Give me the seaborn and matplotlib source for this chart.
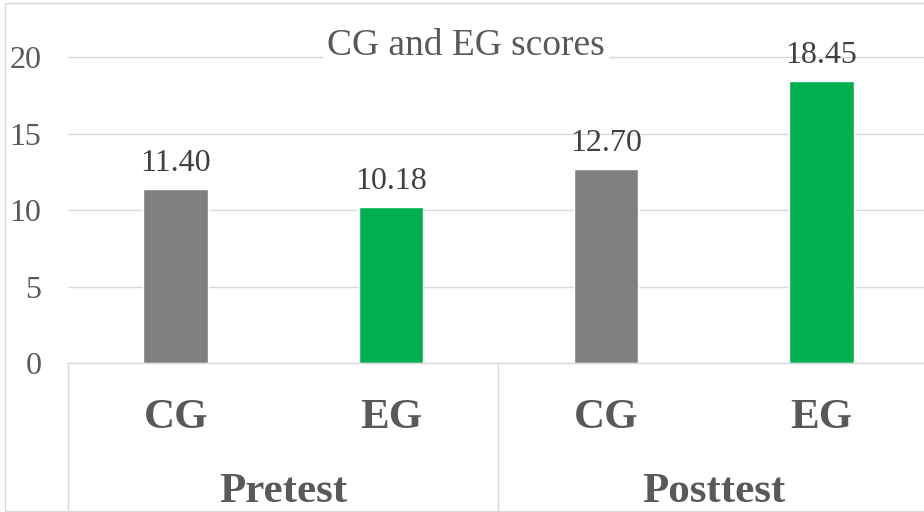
import matplotlib
matplotlib.use("Agg")
import matplotlib.pyplot as plt
import matplotlib.transforms as mtransforms
from matplotlib.patches import Rectangle
import seaborn as sns
import pandas as pd

# ---- data ----
phases = ["Pretest", "Pretest", "Posttest", "Posttest"]
groups = ["CG", "EG", "CG", "EG"]
scores = [11.40, 10.18, 12.70, 18.45]
title_text = "CG and EG scores"
y_ticks = [0, 5, 10, 15, 20]

df = pd.DataFrame({"phase": phases, "group": groups, "score": scores})
df["slot"] = [f"{p} {g}" for p, g in zip(phases, groups)]

sns.set_theme(style="white")
plt.rcParams["font.family"] = ["Liberation Serif", "DejaVu Serif"]

W, H = 924, 512
fig = plt.figure(figsize=(W / 100, H / 100), dpi=100)
ax_left, ax_right, ax_top, ax_bottom = 68, 929, 3, 363
ax = fig.add_axes([ax_left / W, 1 - ax_bottom / H,
                   (ax_right - ax_left) / W, (ax_bottom - ax_top) / H])

palette = {"CG": "#7f7f7f", "EG": "#00b050"}
sns.barplot(data=df, x="slot", y="score", hue="group", palette=palette,
            dodge=False, width=0.30, ax=ax, legend=False, saturation=1,
            order=list(df["slot"]))

ax.set_xlim(-0.5, 3.5)
ax.set_ylim(0, 23.53)
ax.set_yticks(y_ticks)
ax.set_yticklabels([str(t) for t in y_ticks], fontsize=23, color="#595959")
ax.tick_params(axis="y", length=0, pad=19)
ax.tick_params(axis="x", length=0, labelbottom=False)
ax.set_xlabel("")
ax.set_ylabel("")
ax.yaxis.grid(True, color="#d9d9d9", linewidth=1.0)
ax.set_axisbelow(True)
for s in ["left", "right", "top"]:
    ax.spines[s].set_visible(False)
ax.spines["bottom"].set_color("#d9d9d9")
ax.spines["bottom"].set_linewidth(1.0)

# data labels
for i, v in enumerate(scores):
    ax.annotate(f"{v:.2f}", xy=(i, v), xytext=(0, 13), textcoords="offset points",
                ha="center", va="baseline", fontsize=23, color="#404040")

# multi-level category axis
trans = mtransforms.blended_transform_factory(ax.transData, ax.transAxes)
bottom_axes = (ax_bottom - 511) / (ax_bottom - ax_top)
for xv in [-0.5, 1.5, 3.5]:
    ax.plot([xv, xv], [0, bottom_axes], transform=trans, color="#d9d9d9",
            lw=1.0, clip_on=False)

y_grp = (ax_bottom - 428) / (ax_bottom - ax_top)
y_phase = (ax_bottom - 502) / (ax_bottom - ax_top)
for i, g in enumerate(groups):
    ax.text(i, y_grp, g, transform=trans, ha="center", va="baseline",
            fontsize=31, fontweight="bold", color="#595959")
uniq_phases = []
for p in phases:
    if p not in uniq_phases:
        uniq_phases.append(p)
for j, p in enumerate(uniq_phases):
    idx = [i for i, q in enumerate(phases) if q == p]
    xc = sum(idx) / len(idx)
    ax.text(xc, y_phase, p, transform=trans, ha="center", va="baseline",
            fontsize=31, fontweight="bold", color="#595959")

# title
fig.text(466 / W, 1 - 55 / H, title_text, ha="center", va="baseline",
         fontsize=27, color="#595959",
         bbox=dict(facecolor="white", edgecolor="none", boxstyle="square,pad=0.1"))

# chart frame
fig.add_artist(Rectangle((5 / W, 1 - 511 / H), 2.0, 508 / H,
                         transform=fig.transFigure, fill=False,
                         edgecolor="#d9d9d9", lw=1.0))

fig.savefig("out.png", dpi=100)
